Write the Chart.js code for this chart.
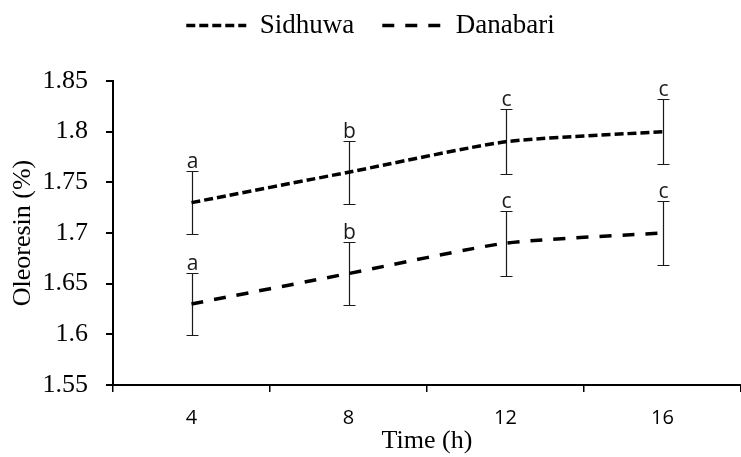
<!DOCTYPE html>
<html>
<head>
<meta charset="utf-8">
<script src="https://cdn.jsdelivr.net/npm/chart.js@4.4.0/dist/chart.umd.min.js"></script>
<style>
  html, body { margin: 0; padding: 0; background: #fff; }
  #wrap { width: 741px; height: 457px; }
</style>
</head>
<body>
<div id="wrap"><canvas id="chart"></canvas></div>
<script>
// --- DATOS ---
const times = ['4', '8', '12', '16'];
const sidhuwa = [1.73, 1.76, 1.79, 1.80];
const danabari = [1.63, 1.66, 1.69, 1.70];
const sidhuwaErr = [0.031, 0.031, 0.032, 0.032];
const danabariErr = [0.031, 0.031, 0.032, 0.032];
const sidhuwaLetters = ['a', 'b', 'c', 'c'];
const danabariLetters = ['a', 'b', 'c', 'c'];

Chart.defaults.font.family = "'Liberation Serif', 'Times New Roman', serif";
Chart.defaults.color = '#000';

// barras de error + letras encima
const errorBars = {
    id: 'errorBars',
    beforeDatasetsDraw(chart) {
        const { ctx, scales: { x, y } } = chart;
        ctx.save();
        ctx.strokeStyle = '#1a1a1a';
        ctx.lineWidth = 1.2;
        chart.data.datasets.forEach(ds => {
            ds.data.forEach((v, i) => {
                const px = Math.round(x.getPixelForValue(i)) + 0.5;
                const top = Math.round(y.getPixelForValue(v + ds.errors[i])) + 0.5;
                const bot = Math.round(y.getPixelForValue(v - ds.errors[i])) + 0.5;
                ctx.beginPath();
                ctx.moveTo(px, top); ctx.lineTo(px, bot);
                ctx.moveTo(px - 6, top); ctx.lineTo(px + 6, top);
                ctx.moveTo(px - 6, bot); ctx.lineTo(px + 6, bot);
                ctx.stroke();
            });
        });
        ctx.restore();
    },
    afterDatasetsDraw(chart) {
        const { ctx, scales: { x, y } } = chart;
        ctx.save();
        ctx.fillStyle = '#1a1a1a';
        ctx.font = "21px 'Open Sans', sans-serif";
        ctx.textAlign = 'center';
        ctx.textBaseline = 'alphabetic';
        chart.data.datasets.forEach(ds => {
            ds.data.forEach((v, i) => {
                const px = x.getPixelForValue(i);
                const top = y.getPixelForValue(v + ds.errors[i]);
                ctx.fillText(ds.letters[i], px + 1, top - 3);
            });
        });
        ctx.restore();
    }
};

// espacio extra bajo la leyenda, y leyenda subida
const legendSpace = {
    id: 'legendSpace',
    beforeInit(chart) {
        const fit = chart.legend.fit;
        chart.legend.fit = function () {
            fit.call(this);
            this.height += 16;
        };
    },
    afterLayout(chart) {
        chart.legend.top -= 16;
        chart.legend.bottom -= 16;
    }
};

const ctx = document.getElementById('chart').getContext('2d');
const myChart = new Chart(ctx, {
    type: 'line',
    data: {
        labels: times,
        datasets: [
            {
                label: 'Sidhuwa',
                data: sidhuwa,
                errors: sidhuwaErr,
                letters: sidhuwaLetters,
                borderColor: '#000',
                backgroundColor: '#000',
                borderWidth: 3.5,
                borderDash: [9, 4],
                pointRadius: 0,
                tension: 0.2
            },
            {
                label: 'Danabari',
                data: danabari,
                errors: danabariErr,
                letters: danabariLetters,
                borderColor: '#000',
                backgroundColor: '#000',
                borderWidth: 3.5,
                borderDash: [12, 11],
                pointRadius: 0,
                tension: 0.2
            }
        ]
    },
    options: {
        responsive: true,
        maintainAspectRatio: false,
        animation: false,
        layout: { padding: { top: 0, right: 0, left: 0, bottom: 0 } },
        plugins: {
            tooltip: { enabled: false },
            legend: {
                position: 'top',
                labels: {
                    usePointStyle: true,
                    pointStyle: 'line',
                    pointStyleWidth: 60,
                    boxWidth: 60,
                    boxHeight: 10,
                    padding: 28,
                    color: '#000',
                    font: { size: 27 },
                    generateLabels(chart) {
                        const items = Chart.defaults.plugins.legend.labels.generateLabels(chart);
                        items.forEach(it => {
                            const ds = chart.data.datasets[it.datasetIndex];
                            it.lineDash = ds.borderDash;
                            it.lineWidth = ds.borderWidth;
                            it.strokeStyle = ds.borderColor;
                        });
                        return items;
                    }
                }
            }
        },
        scales: {
            x: {
                type: 'category',
                offset: true,
                afterFit: s => { s.height = 72; },
                grid: {
                    offset: true,
                    drawOnChartArea: false,
                    drawTicks: true,
                    tickLength: 7,
                    color: '#000',
                    lineWidth: 1.5
                },
                border: { color: '#000', width: 2 },
                ticks: {
                    padding: 14,
                    color: '#000',
                    font: { family: "'Open Sans', sans-serif", size: 20 }
                },
                title: {
                    display: true,
                    text: 'Time (h)',
                    color: '#000',
                    font: { size: 26 },
                    padding: { top: 0, bottom: 0 }
                }
            },
            y: {
                min: 1.55,
                max: 1.85,
                afterFit: s => { s.width = 113; },
                grid: {
                    drawOnChartArea: false,
                    drawTicks: true,
                    tickLength: 7,
                    color: '#000',
                    lineWidth: 2
                },
                border: { color: '#000', width: 2 },
                ticks: {
                    stepSize: 0.05,
                    padding: 18,
                    color: '#000',
                    font: { size: 26 },
                    callback: v => String(+v.toFixed(2))
                },
                title: {
                    display: true,
                    text: 'Oleoresin (%)',
                    color: '#000',
                    font: { size: 26 },
                    padding: { top: 8, bottom: 0 }
                }
            }
        }
    },
    plugins: [errorBars, legendSpace]
});
</script>
</body>
</html>
